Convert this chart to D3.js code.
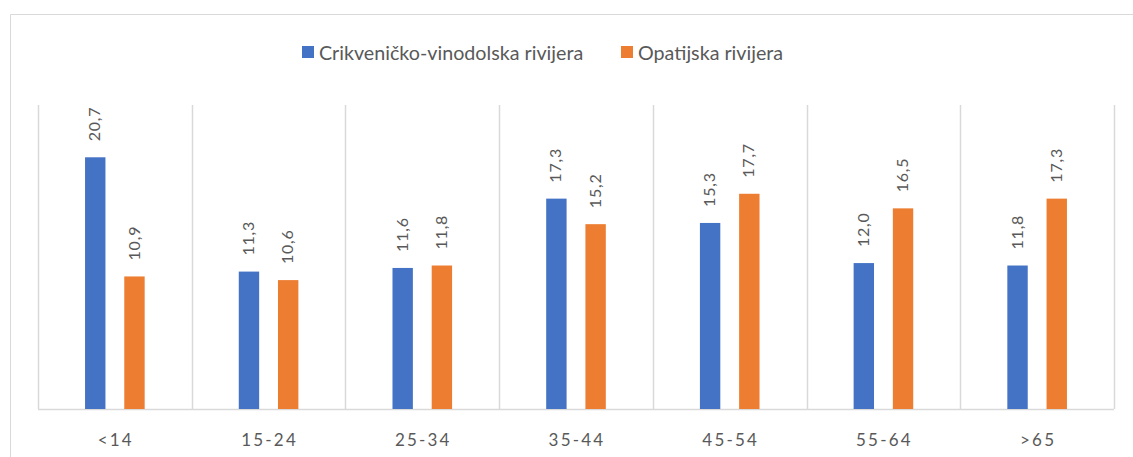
<!DOCTYPE html>
<html>
<head>
<meta charset="utf-8">
<script src="https://cdn.jsdelivr.net/npm/d3@7"></script>
<style>
  body { margin: 0; background: #fff; }
  text { font-family: Lato, "Open Sans", sans-serif; fill: #595959; }
</style>
</head>
<body>
<div id="chart"></div>
<script>
const categories = ["<14", "15-24", "25-34", "35-44", "45-54", "55-64", ">65"];
const seriesNames = ["Crikveničko-vinodolska rivijera", "Opatijska rivijera"];
const crikvenica = [20.7, 11.3, 11.6, 17.3, 15.3, 12.0, 11.8];
const opatija = [10.9, 10.6, 11.8, 15.2, 17.7, 16.5, 17.3];
const colors = ["#4472C4", "#ED7D31"];

const width = 1133;
const height = 457;
const margin = { top: 105, right: 19, bottom: 48, left: 38 };

const svg = d3.select("#chart")
  .append("svg")
  .attr("width", width)
  .attr("height", height);

// chart border (only top and left visible)
svg.append("path")
  .attr("d", `M10.5,${height} V14.5 H${width}`)
  .attr("fill", "none")
  .attr("stroke", "#d9d9d9")
  .attr("stroke-width", 1);

const x0 = d3.scaleBand()
  .domain(categories)
  .range([margin.left, width - margin.right]);

const x1 = d3.scaleBand()
  .domain(seriesNames)
  .range([0, x0.bandwidth()])
  .paddingInner(0.48)
  .paddingOuter(1.2);

const y = d3.scaleLinear()
  .domain([0, 25])
  .range([height - margin.bottom, margin.top]);

// vertical separators
const seps = categories.map(c => x0(c)).concat([x0.range()[1]]);
svg.selectAll(".sep")
  .data(seps)
  .enter()
  .append("line")
  .attr("x1", d => Math.round(d) + 0.5)
  .attr("x2", d => Math.round(d) + 0.5)
  .attr("y1", y(25))
  .attr("y2", y(0))
  .attr("stroke", "#d9d9d9")
  .attr("stroke-width", 1.5);

// baseline
svg.append("line")
  .attr("x1", x0.range()[0])
  .attr("x2", x0.range()[1])
  .attr("y1", y(0) + 0.5)
  .attr("y2", y(0) + 0.5)
  .attr("stroke", "#d9d9d9")
  .attr("stroke-width", 1.5);

const rows = categories.map((c, i) => ({
  category: c,
  values: [crikvenica[i], opatija[i]]
}));

const groups = svg.selectAll(".grp")
  .data(rows)
  .enter()
  .append("g")
  .attr("transform", d => `translate(${x0(d.category)},0)`);

const bars = groups.selectAll("g")
  .data(d => d.values.map((v, j) => ({ name: seriesNames[j], value: v, idx: j })))
  .enter()
  .append("g");

bars.append("rect")
  .attr("x", d => x1(d.name))
  .attr("width", x1.bandwidth())
  .attr("y", d => y(d.value))
  .attr("height", d => y(0) - y(d.value))
  .attr("fill", d => colors[d.idx]);

bars.append("text")
  .attr("transform", d => `translate(${x1(d.name) + x1.bandwidth() / 2 + 1},${y(d.value) - 16}) rotate(-90)`)
  .attr("dominant-baseline", "middle")
  .attr("text-anchor", "start")
  .style("font-size", "16px")
  .style("letter-spacing", "0.8px")
  .text(d => d.value.toFixed(1).replace(".", ","));

// category labels
svg.selectAll(".cat")
  .data(categories)
  .enter()
  .append("text")
  .attr("x", d => x0(d) + x0.bandwidth() / 2 + 1)
  .attr("y", 446)
  .attr("text-anchor", "middle")
  .style("font-size", "17px")
  .style("letter-spacing", "2.2px")
  .text(d => d);

// legend
const legendItems = [
  { name: seriesNames[0], x: 302 },
  { name: seriesNames[1], x: 621 }
];
const legend = svg.selectAll(".legend")
  .data(legendItems)
  .enter()
  .append("g")
  .attr("transform", d => `translate(${d.x},46)`);

legend.append("rect")
  .attr("width", 12)
  .attr("height", 12)
  .attr("fill", (d, i) => colors[i]);

legend.append("text")
  .attr("x", 17)
  .attr("y", 6)
  .attr("dominant-baseline", "central")
  .style("font-size", "19.7px")
  .text(d => d.name);
</script>
</body>
</html>
